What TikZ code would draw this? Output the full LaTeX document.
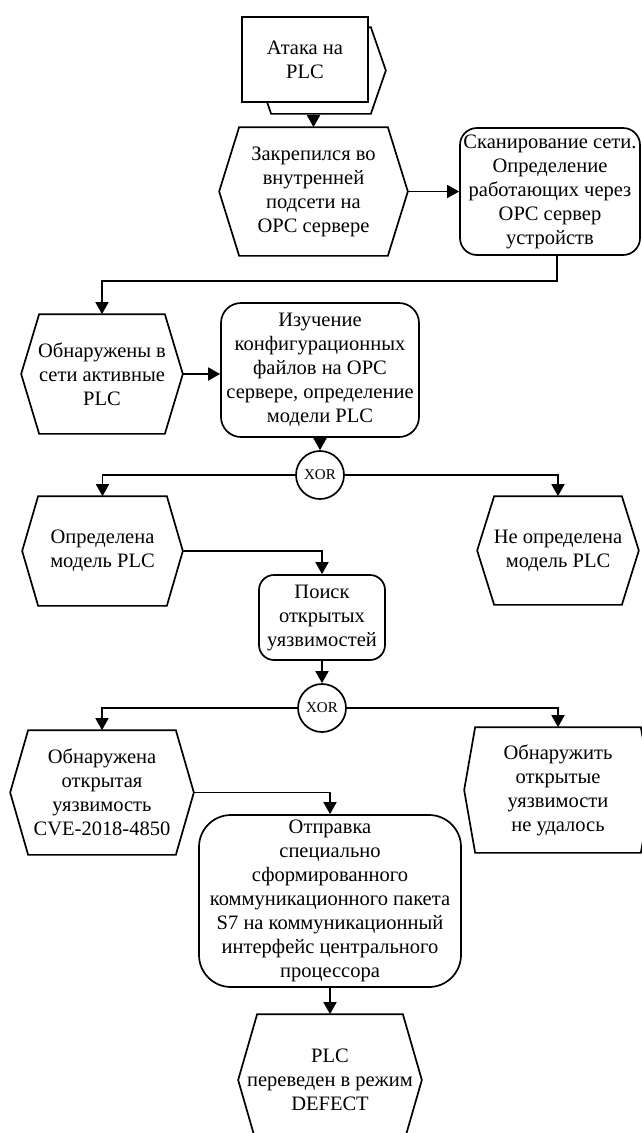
\documentclass[tikz,border=0pt]{standalone}
\usepackage{fontspec}
\setmainfont{Liberation Serif}
\usetikzlibrary{arrows.meta,calc}
\begin{document}
\begin{tikzpicture}[x=1pt,y=-1pt,
  line width=1.7pt,
  txt/.style={font=\fontsize{20.5}{24}\selectfont, align=center, inner sep=0pt},
  func/.style={txt, draw, fill=white, rounded corners=#1},
  func/.default=16pt,
  evt/.style={txt, append after command={\pgfextra{\draw[line join=miter]
      (\tikzlastnode.west) -- ([xshift=#1]\tikzlastnode.north west)
      -- ([xshift=-#1]\tikzlastnode.north east) -- (\tikzlastnode.east)
      -- ([xshift=-#1]\tikzlastnode.south east)
      -- ([xshift=#1]\tikzlastnode.south west) -- cycle;}}},
  evt/.default=18pt,
  xorgate/.style={circle, draw, fill=white, minimum size=48pt, inner sep=0pt,
      font=\fontsize{15}{17}\selectfont},
  arr/.style={-{Triangle[width=13pt,length=12pt]}}
]
\useasboundingbox (0,0) rectangle (641,1133);

% process interface: event hexagon behind a function box
\node[evt=15pt, minimum width=128pt, minimum height=85pt] (startbg) at (321,70.5) {};
\node[txt, draw, fill=white, minimum width=126pt, minimum height=85pt] (start) at (305,59.5) {Атака на\\PLC};

\node[evt=20pt, minimum width=187pt, minimum height=127pt] (e1) at (313.5,191.5)
  {Закрепился во\\внутренней\\подсети на\\OPC сервере};
\node[func=17pt, minimum width=180pt, minimum height=127pt] (f1) at (550,191.5)
  {Сканирование сети.\\Определение\\работающих через\\OPC сервер\\устройств};

\node[evt=18pt, minimum width=160pt, minimum height=118pt] (e2) at (102,374)
  {Обнаружены в\\сети активные\\PLC};
\node[func=20pt, minimum width=198pt, minimum height=134pt] (f2) at (320,370)
  {Изучение\\конфигурационных\\файлов на OPC\\сервере, определение\\модели PLC};

\node[xorgate] (x1) at (320,475) {XOR};

\node[evt=16pt, minimum width=159pt, minimum height=108pt] (e3) at (102.5,551)
  {Определена\\модель PLC};
\node[evt=17pt, minimum width=160pt, minimum height=107pt] (e4) at (558,550.5)
  {Не определена\\модель PLC};
\node[func=15pt, minimum width=126pt, minimum height=85pt] (f3) at (322,617.5)
  {Поиск\\открытых\\уязвимостей};

\node[xorgate] (x2) at (322,708) {XOR};

\node[evt=18pt, minimum width=182pt, minimum height=123pt] (e5) at (102,792.5)
  {Обнаружена\\открытая\\уязвимость\\CVE-2018-4850};
\node[evt=11pt, minimum width=186pt, minimum height=124pt] (e6) at (558,790)
  {Обнаружить\\открытые\\уязвимости\\не удалось};
\node[func=32pt, minimum width=262pt, minimum height=172pt] (f4) at (330,901)
  {Отправка\\специально\\сформированного\\коммуникационного пакета\\S7 на коммуникационный\\интерфейс центрального\\процессора};

\node[evt=19pt, minimum width=182pt, minimum height=130pt] (e7) at (330,1080)
  {PLC\\переведен в режим\\DEFECT};

% connectors
\draw[arr] (startbg.south -| e1.north) -- (e1.north);
\draw[arr] (e1.east) -- (f1.west);
\draw[arr] ([xshift=7pt]f1.south) -- ++(0,25) -| (e2.north);
\draw[arr] (e2.east) -- (e2.east -| f2.west);
\draw[arr] (f2.south) -- (x1.north);
\draw[arr] (x1.west) -| (e3.north);
\draw[arr] (x1.east) -| (e4.north);
\draw[arr] (e3.east) -| (f3.north);
\draw[arr] (f3.south) -- (x2.north);
\draw[arr] (x2.west) -| (e5.north);
\draw[arr] (x2.east) -| (e6.north);
\draw[arr] (e5.east) -| (f4.north);
\draw[arr] (f4.south) -- (e7.north);
\end{tikzpicture}
\end{document}
